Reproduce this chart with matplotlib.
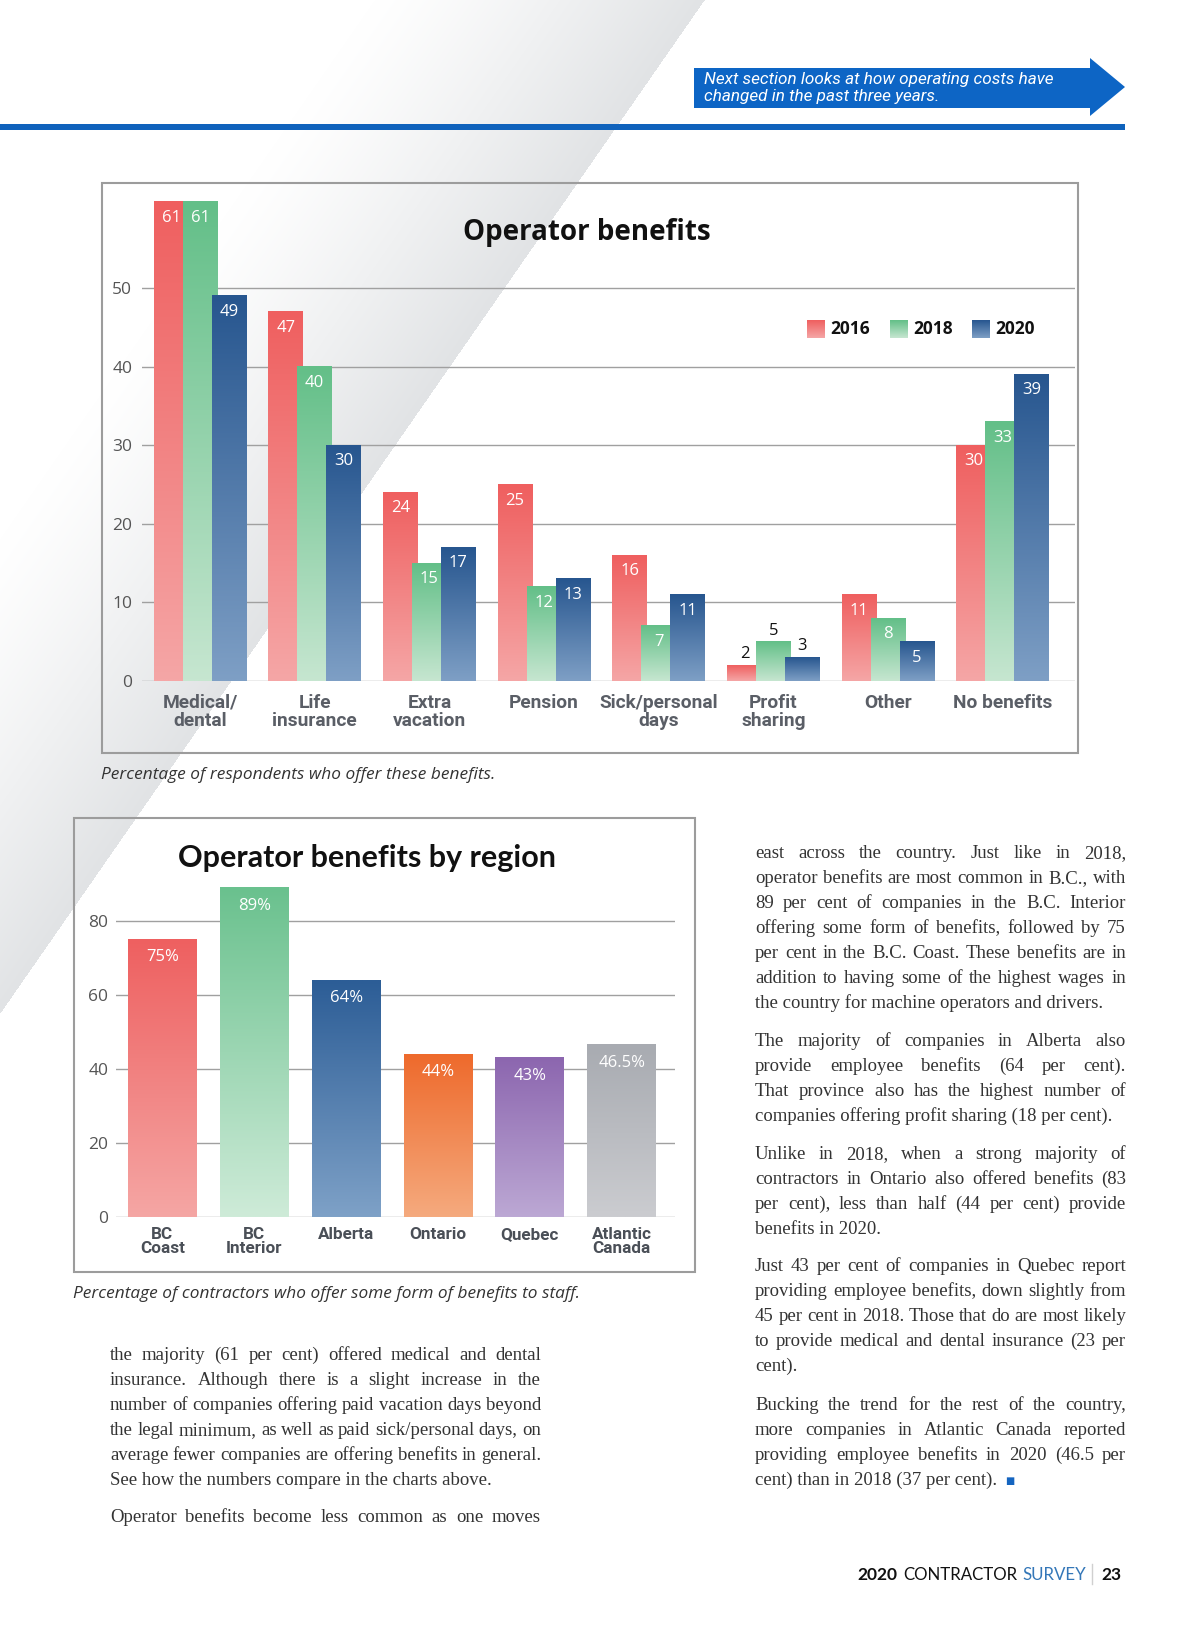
import numpy as np
import matplotlib
matplotlib.use("Agg")
import matplotlib.pyplot as plt
from matplotlib.patches import Rectangle, Polygon
from matplotlib.colors import to_rgb

# ---------------- data ----------------
categories = ['Medical/\ndental', 'Life\ninsurance', 'Extra\nvacation', 'Pension',
              'Sick/personal\ndays', 'Profit\nsharing', 'Other', 'No benefits']
years = ['2016', '2018', '2020']
v2016 = [61, 47, 24, 25, 16, 2, 11, 30]
v2018 = [61, 40, 15, 12, 7, 5, 8, 33]
v2020 = [49, 30, 17, 13, 11, 3, 5, 39]
y_ticks1 = [0, 10, 20, 30, 40, 50]

regions = ['BC\nCoast', 'BC\nInterior', 'Alberta', 'Ontario', 'Quebec', 'Atlantic\nCanada']
region_vals = [75, 89, 64, 44, 43, 46.5]
region_labels = ['75%', '89%', '64%', '44%', '43%', '46.5%']
y_ticks2 = [0, 20, 40, 60, 80]

# ---------------- styles ----------------
year_cols = [('#EF5F5F', '#F5A6A6'), ('#63BF88', '#C6E6D0'), ('#27568F', '#7E9FC5')]
region_cols = [('#EE6060', '#F5A6A4'), ('#6AC18E', '#CEEBD8'), ('#2C5D96', '#7EA1C7'),
               ('#EE6A2C', '#F5AA7E'), ('#8C66AF', '#BCA8D4'), ('#A8ABB1', '#CBCCD0')]
TXT = '#333333'

fig = plt.figure(figsize=(12, 16.3), dpi=100)
page = fig.add_axes([0, 0, 1, 1], zorder=-1)
page.axis('off')


def vgrad(ax, x0, x1, y0, y1, top, bottom, z):
    t = np.linspace(0, 1, 128)[:, None, None]
    c = np.array(to_rgb(top)) * (1 - t) + np.array(to_rgb(bottom)) * t
    ax.imshow(c, extent=[x0, x1, y0, y1], origin='upper', aspect='auto',
              zorder=z, interpolation='bilinear')


# ---------------- background band ----------------
yy, xx = np.mgrid[0:1630, 0:1200]
xe = 704 - 0.695 * yy
d = xe - xx
t = np.clip(1 - d / 330.0, 0, 1)
t[d < 0] = 0
t = t ** 1.2
gray = np.array([225, 227, 229]) / 255.0
img = 1 - t[..., None] * (1 - gray)
page.imshow(img, extent=[0, 1200, 1630, 0], zorder=0, interpolation='bilinear', aspect='auto')

# ---------------- header ----------------
page.add_patch(Polygon([(694, 68), (1090, 68), (1090, 58), (1125, 87), (1090, 116),
                        (1090, 108), (694, 108)], closed=True, color='#0D65C5', zorder=2, lw=0))
page.add_patch(Rectangle((0, 124), 1125, 6, color='#0F62BC', zorder=2, lw=0))
page.text(704, 84, 'Next section looks at how operating costs have', color='white',
          fontsize=12.3, family='Roboto', style='italic', va='baseline', zorder=3)
page.text(704, 101, 'changed in the past three years.', color='white',
          fontsize=12.3, family='Roboto', style='italic', va='baseline', zorder=3)

# ---------------- chart 1 ----------------
page.add_patch(Rectangle((102, 183), 976, 570, fill=False, ec='#9C9C9C', lw=1.5, zorder=2))
ax1 = fig.add_axes([142 / 1200, 1 - 681 / 1630, 933 / 1200, 498 / 1630])
ax1.set_facecolor('none')
x = np.arange(len(categories))
series = [v2016, v2018, v2020]
offsets = [-0.253, 0.0, 0.253]
group_max = [max(a, b, c) for a, b, c in zip(v2016, v2018, v2020)]
for k, vals in enumerate(series):
    top, bot = year_cols[k]
    bars = ax1.bar(x + offsets[k], vals, width=0.305, color=top, zorder=2 + k, linewidth=0)
    for i, (b, v) in enumerate(zip(bars, vals)):
        vgrad(ax1, b.get_x(), b.get_x() + b.get_width(), 0, b.get_height(), top, bot, 2 + k + 0.5)
        cx = b.get_x() + b.get_width() / 2
        if group_max[i] < 6:
            ax1.annotate(str(v), (cx, v), xytext=(0, 11), textcoords='offset pixels',
                         ha='center', va='center', color='#111111', fontsize=12,
                         family='Open Sans', zorder=10)
        else:
            ax1.annotate(str(v), (cx, v), xytext=(0, -16), textcoords='offset pixels',
                         ha='center', va='center', color='white', fontsize=12,
                         family='Open Sans', zorder=10)
for yv in y_ticks1:
    ax1.axhline(yv, color='#A0A0A0', lw=1, zorder=1)
ax1.set_xlim(-0.506, 7.63)
ax1.set_ylim(0, 63.36)
ax1.set_yticks(y_ticks1)
ax1.set_yticklabels([str(v) for v in y_ticks1], family='Open Sans', fontsize=12.5, color='#555555')
ax1.set_xticks(x)
ax1.set_xticklabels(categories, family='Roboto', fontweight='bold', fontsize=13.8,
                    color='#5A5E66', linespacing=1.02)
ax1.tick_params(axis='y', length=0, pad=7)
ax1.tick_params(axis='x', length=0, pad=9)
for s in ax1.spines.values():
    s.set_visible(False)

page.text(587, 240, 'Operator benefits', fontsize=20, fontweight='bold', family='Open Sans',
          ha='center', va='baseline', color='#111111', zorder=3)
# legend
leg_x = [807, 890, 972]
for k, lx in enumerate(leg_x):
    vgrad(page, lx, lx + 18, 338, 320, year_cols[k][0], year_cols[k][1], 3)
    page.text(lx + 23, 329, years[k], fontsize=12.5, fontweight='bold', family='Open Sans',
              va='center', ha='left', color='#111111', zorder=3)
page.text(101, 775, 'Percentage of respondents who offer these benefits.', fontsize=12.4,
          family='Open Sans', style='italic', color='#333333', va='center', zorder=3)

# ---------------- chart 2 ----------------
page.add_patch(Rectangle((74, 818), 621, 454, fill=False, ec='#9C9C9C', lw=1.5, zorder=2))
ax2 = fig.add_axes([116.5 / 1200, 1 - 1217 / 1630, 558.5 / 1200, 399 / 1630])
ax2.set_facecolor('none')
x2 = np.arange(len(regions))
bars2 = ax2.bar(x2, region_vals, width=0.75, color=[c[0] for c in region_cols], zorder=2, linewidth=0)
for i, (b, v) in enumerate(zip(bars2, region_vals)):
    vgrad(ax2, b.get_x(), b.get_x() + b.get_width(), 0, b.get_height(),
          region_cols[i][0], region_cols[i][1], 2.5)
    ax2.annotate(region_labels[i], (b.get_x() + b.get_width() / 2, v), xytext=(0, -18),
                 textcoords='offset pixels', ha='center', va='center', color='white',
                 fontsize=12, family='Open Sans', zorder=10)
for yv in y_ticks2:
    ax2.axhline(yv, color='#A0A0A0', lw=1, zorder=1)
ax2.set_xlim(-0.5, 5.58)
ax2.set_ylim(0, 107.8)
ax2.set_yticks(y_ticks2)
ax2.set_yticklabels([str(v) for v in y_ticks2], family='Open Sans', fontsize=12.5, color='#555555')
ax2.set_xticks(x2)
ax2.set_xticklabels(regions, family='Roboto', fontweight='bold', fontsize=12.3,
                    color='#4A4F57', linespacing=0.95)
ax2.tick_params(axis='y', length=0, pad=6)
ax2.tick_params(axis='x', length=0, pad=7)
for s in ax2.spines.values():
    s.set_visible(False)

page.text(367, 867, 'Operator benefits by region', fontsize=22, fontweight='bold', family='Lato',
          ha='center', va='baseline', color='#111111', zorder=3)
page.text(73, 1294, 'Percentage of contractors who offer some form of benefits to staff.',
          fontsize=12.4, family='Open Sans', style='italic', color='#333333', va='center', zorder=3)

# ---------------- body text ----------------
page.set_xlim(0, 1200)
page.set_ylim(1630, 0)
renderer = fig.canvas.get_renderer()
BODY = dict(family='Liberation Serif', fontsize=13.5, color=TXT, va='baseline', zorder=3)


def twidth(s, **kw):
    tt = page.text(0, 0, s, **kw)
    w = tt.get_window_extent(renderer).width
    tt.remove()
    return w


def paragraph(lines, x0, x1, y0, step=25, justify_last=False):
    y = y0
    ends = []
    for j, line in enumerate(lines):
        last = (j == len(lines) - 1) and not justify_last
        if last:
            page.text(x0, y, line, **BODY)
            ends.append((x0 + twidth(line, **BODY), y))
        else:
            words = line.split()
            ws = [twidth(w, **BODY) for w in words]
            gap = (x1 - x0 - sum(ws)) / (len(words) - 1)
            xx_ = x0
            for w, wd in zip(words, ws):
                page.text(xx_, y, w, **BODY)
                xx_ += wd + gap
            ends.append((x1, y))
        y += step
    return ends


left_p1 = ["the majority (61 per cent) offered medical and dental",
           "insurance. Although there is a slight increase in the",
           "number of companies offering paid vacation days beyond",
           "the legal minimum, as well as paid sick/personal days, on",
           "average fewer companies are offering benefits in general.",
           "See how the numbers compare in the charts above."]
left_p2 = ["Operator benefits become less common as one moves"]
paragraph(left_p1, 110, 541, 1360)
paragraph(left_p2, 110, 541, 1522, justify_last=True)

rp1 = ["east across the country. Just like in 2018,",
       "operator benefits are most common in B.C., with",
       "89 per cent of companies in the B.C. Interior",
       "offering some form of benefits, followed by 75",
       "per cent in the B.C. Coast. These benefits are in",
       "addition to having some of the highest wages in",
       "the country for machine operators and drivers."]
rp2 = ["The majority of companies in Alberta also",
       "provide employee benefits (64 per cent).",
       "That province also has the highest number of",
       "companies offering profit sharing (18 per cent)."]
rp3 = ["Unlike in 2018, when a strong majority of",
       "contractors in Ontario also offered benefits (83",
       "per cent), less than half (44 per cent) provide",
       "benefits in 2020."]
rp4 = ["Just 43 per cent of companies in Quebec report",
       "providing employee benefits, down slightly from",
       "45 per cent in 2018.  Those that do are most likely",
       "to provide medical and dental insurance (23 per",
       "cent)."]
rp5 = ["Bucking the trend for the rest of the country,",
       "more companies in Atlantic Canada reported",
       "providing employee benefits in 2020 (46.5 per",
       "cent) than in 2018 (37 per cent)."]
RX0, RX1 = 755, 1126
paragraph(rp1, RX0, RX1, 858)
paragraph(rp2, RX0, RX1, 1046)
paragraph(rp3, RX0, RX1, 1159)
paragraph(rp4, RX0, RX1, 1271)
ends = paragraph(rp5, RX0, RX1, 1410)
ex, ey = ends[-1]
page.text(ex + 8, ey - 1, '■', family='DejaVu Sans', fontsize=7, color='#1565C0',
          va='baseline', zorder=3)

# ---------------- footer ----------------
F_B = dict(family='Lato', fontweight='bold', fontsize=12.5, color='#111111', va='baseline', zorder=3)
F_R = dict(family='Lato', fontsize=12.2, color='#111111', va='baseline', zorder=3)
F_S = dict(family='Lato', fontsize=12.2, color='#3477B8', va='baseline', zorder=3)
fx = 857
page.text(fx, 1580, '2020', **F_B)
fx += twidth('2020', **F_B) + 6
page.text(fx, 1580, 'CONTRACTOR', **F_R)
fx += twidth('CONTRACTOR', **F_R) + 5
page.text(fx, 1580, 'SURVEY', **F_S)
fx += twidth('SURVEY', **F_S) + 6
page.plot([fx, fx], [1564, 1584], color='#D0D0D0', lw=1, zorder=3)
page.text(fx + 9, 1580, '23', **F_B)

page.set_xlim(0, 1200)
page.set_ylim(1630, 0)
fig.savefig('out.png', dpi=100)
